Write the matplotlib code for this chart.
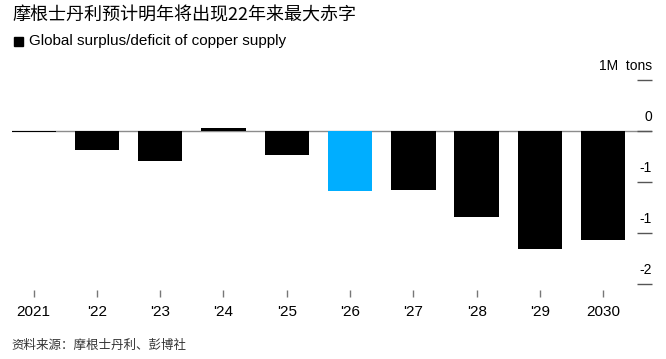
import matplotlib
matplotlib.use("Agg")
import matplotlib.pyplot as plt

plt.rcParams['font.family'] = ['Liberation Sans', 'Noto Sans CJK SC', 'DejaVu Sans']

years = ["2021", "'22", "'23", "'24", "'25", "'26", "'27", "'28", "'29", "2030"]
balance = [-0.01, -0.19, -0.29, 0.03, -0.23, -0.59, -0.58, -0.84, -1.16, -1.07]  # million tons
highlight = "'26"

ytick_vals = [0, -0.5, -1.0, -1.5]
ytick_labels = ["0", "-1", "-1", "-2"]
unit_tick = 0.5

W, H = 666, 359
fig = plt.figure(figsize=(W / 100, H / 100), dpi=100)

# axes in pixel coordinates: left 12, right 652, top 70, bottom 290
l, r, t, b = 12, 652, 70, 290
ax = fig.add_axes([l / W, 1 - b / H, (r - l) / W, (b - t) / H])

x = list(range(len(years)))
colors = ["#00aeff" if y == highlight else "black" for y in years]
ax.bar(x, balance, width=0.70, color=colors, edgecolor="none", zorder=2)

ax.set_xlim(-0.34, 9.77)
ax.set_ylim(-1.56, 0.60)

# zero line
ax.axhline(0, color="#8c8c8c", lw=1, zorder=1)

# right-side tick dashes and labels
for v, lab in zip(ytick_vals, ytick_labels):
    ax.plot([9.53, 9.77], [v, v], color="#555555", lw=1, solid_capstyle="butt", clip_on=False)
    ax.annotate(lab, xy=(9.77, v), xytext=(0, 5), textcoords="offset points",
                ha="right", va="bottom", fontsize=10, color="black")
ax.plot([9.53, 9.77], [unit_tick, unit_tick], color="#555555", lw=1, solid_capstyle="butt", clip_on=False)
ax.annotate("1M  tons", xy=(9.77, unit_tick), xytext=(0, 5), textcoords="offset points",
            ha="right", va="bottom", fontsize=10, color="black")

ax.set_xticks(x)
ax.set_xticklabels(years, fontsize=11)
ax.tick_params(axis="x", length=5, width=1, color="#777777", pad=6, direction="out")
ax.set_yticks([])
for s in ax.spines.values():
    s.set_visible(False)

# title, legend, source
fig.text(12 / W, 1 - 15 / H, "摩根士丹利预计明年将出现22年来最大赤字", fontsize=13,
         family=['Noto Sans CJK SC', 'DejaVu Sans'], va="center", ha="left")
fig.patches.append(plt.Rectangle((14 / W, 1 - 46 / H), 9 / W, 9 / H, transform=fig.transFigure,
                                 color="black", figure=fig))
fig.text(29 / W, 1 - 41.5 / H, "Global surplus/deficit of copper supply", fontsize=11,
         va="center", ha="left")
fig.text(11 / W, 1 - 345 / H, "资料来源：摩根士丹利、彭博社", fontsize=9, color="#333333",
         family=['Noto Sans CJK SC', 'DejaVu Sans'], va="center", ha="left")

fig.savefig("out.png", dpi=100)
